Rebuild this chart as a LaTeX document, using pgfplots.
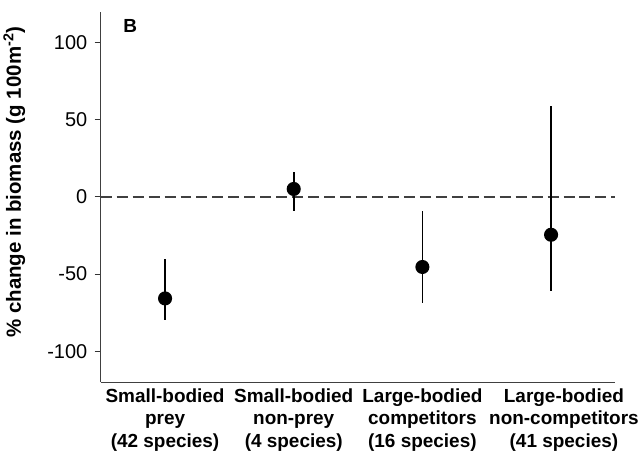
\documentclass[border=0pt]{standalone}
\usepackage{pgfplots}
\pgfplotsset{compat=1.18}
\usepackage{fontspec}
\setmainfont{Liberation Sans}

\pgfplotstableread{
x   y     ep    em
1  -65.8  25.8  14.2
2   5.2   11.1  14.0
3  -45.4  36.6  23.6
4  -24.5  83.2  36.5
}\groups

\begin{document}
\begin{tikzpicture}
\begin{axis}[
    scale only axis,
    width=516pt, height=371pt,
    xmin=0.5, xmax=4.5,
    ymin=-120, ymax=120,
    axis x line=bottom, axis y line=left,
    axis line style={-, black!75, line width=1pt},
    xtick={1,2,3,4.1},
    xticklabels={
      Small-bodied\\prey\\(42 species),
      Small-bodied\\non-prey\\(4 species),
      Large-bodied\\competitors\\(16 species),
      Large-bodied\\non-competitors\\(41 species)},
    x tick label style={align=center, font=\fontsize{19}{22.5}\selectfont\bfseries},
    x tick style={draw=none},
    ytick={-100,-50,0,50,100},
    y tick label style={font=\fontsize{20}{22}\selectfont, xshift=-4pt},
    ytick align=outside,
    major tick length=6pt,
    y tick style={black!80, line width=1pt},
    /pgf/number format/assume math mode=true,
    ylabel={\% change in biomass (g 100m\textsuperscript{-2})},
    ylabel style={font=\fontsize{20.5}{24}\selectfont\bfseries,
      at={(axis description cs:-0.14,0.54)}, anchor=south},
    clip=false,
]
\addplot[black!75, line width=1.3pt, dash pattern=on 11pt off 5pt, forget plot]
  coordinates {(0.5,0) (4.5,0)};
\addplot[only marks, mark=*, mark size=6.3pt, black, line width=1.5pt,
  error bars/.cd, y dir=both, y explicit, error mark=none,
  error bar style={line width=1.8pt, black}]
  table[x=x, y=y, y error plus=ep, y error minus=em]{\groups};
\node[font=\fontsize{19}{22}\selectfont\bfseries] at (axis cs:0.73,111) {B};
\path (rel axis cs:0,1) -- ([yshift=12pt]rel axis cs:0,1);
\end{axis}
\end{tikzpicture}
\end{document}
